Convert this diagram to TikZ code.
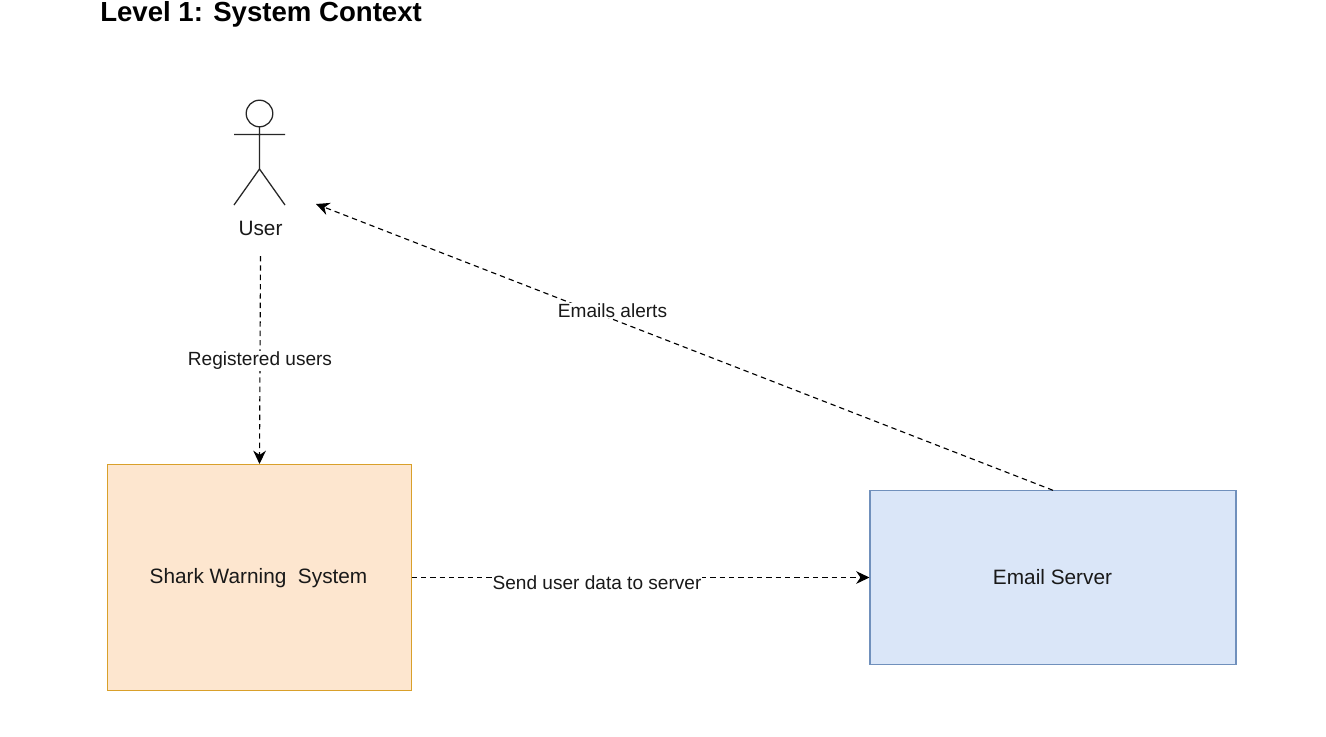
\documentclass[tikz,border=0pt]{standalone}
\usepackage{fontspec}
\setmainfont{Liberation Sans}
\usetikzlibrary{arrows.meta}
\definecolor{orfill}{HTML}{FDE6CF}
\definecolor{ordraw}{HTML}{D9A02A}
\definecolor{blfill}{HTML}{DAE6F8}
\definecolor{bldraw}{HTML}{7090BC}
\tikzset{
  x=0.75pt,y=-0.75pt,
  boxlabel/.style={font=\fontsize{15.6}{18}\selectfont,text=black!90},
  edgelabel/.style={font=\fontsize{14.3}{17}\selectfont,fill=white,inner sep=0.5pt,text=black!90},
  flow/.style={dash pattern=on 4pt off 3pt,line width=0.85pt,-{Stealth[length=10pt,width=9.5pt]}},
  figure/.style={line width=0.95pt,black!85}
}
\begin{document}
\begin{tikzpicture}
\useasboundingbox (0,0) rectangle (1326,736);
\fill[white] (0,0) rectangle (1326,736);
\node[anchor=west,font=\bfseries\fontsize{20.7}{24}\selectfont,inner sep=0] (title) at (100,14) {Level 1: System Context};
\node[draw=ordraw,fill=orfill,line width=0.8pt,minimum width=227.5pt,minimum height=169.5pt,inner sep=0] (shark) at (259.5,577.5) {};
\node[boxlabel] (sharklabel) at (258.5,578.5) {Shark Warning\ \ System};
\node[draw=bldraw,fill=blfill,line width=0.8pt,minimum width=274.5pt,minimum height=130pt,inner sep=0] (email) at (1053,577.5) {};
\node[boxlabel] (emaillabel) at (1052.5,577) {Email Server};
\draw[figure] (259.5,113.5) circle[radius=13.3];
\draw[figure] (259.5,127) -- (259.5,169) (234,134.5) -- (285,134.5) (234,205) -- (259.5,169) -- (285,205);
\node[boxlabel] (user) at (260.5,228) {User};
\coordinate (userbottom) at (260.5,256);
\coordinate (usertarget) at (316,204);
\draw[flow] (userbottom) -- (shark.north);
\node[edgelabel] (l1) at (260,361) {Registered users};
\draw[flow] (email.north) -- (usertarget);
\node[edgelabel] (l2) at (612.5,310.5) {Emails alerts};
\draw[flow] (shark.east) -- (email.west);
\node[edgelabel] (l3) at (597,582.5) {Send user data to server};
\end{tikzpicture}
\end{document}
